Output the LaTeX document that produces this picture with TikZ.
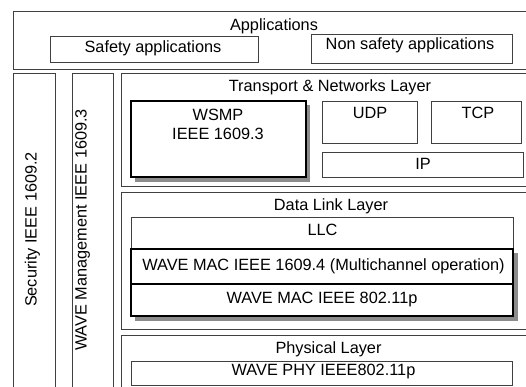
\documentclass[tikz,border=0pt]{standalone}
\usepackage{fontspec}
\setmainfont{Liberation Sans}
\usetikzlibrary{fit}
\begin{document}
\begin{tikzpicture}[x=1pt,y=-1pt,
  box/.style={draw=black!75, line width=0.9pt, fill=white, inner sep=0pt},
  heavybox/.style={draw=black, line width=2pt, fill=white, inner sep=0pt},
  shade/.style={fill=black!45, draw=none},
  lbl/.style={font=\fontsize{16.3}{18}\selectfont, inner sep=0pt, anchor=base}]
\clip (0,0) rectangle (526,387);
\fill[white] (0,0) rectangle (526,387);
% Applications
\node[box, fit={(13,11)(535,69)}] (app) {};
\node[lbl] (appT) at (274,31) {Applications};
\node[box, fit={(50,36)(258,62)}] (safe) {};
\node[lbl] (safeT) at (153,52.5) {Safety applications};
\node[box, fit={(311,34)(512,63)}] (nonsafe) {};
\node[lbl] (nonsafeT) at (410,50) {Non safety applications};
% Left columns
\node[box, fit={(13,73)(55,395)}] (sec) {};
\node[lbl, rotate=90] (secT) at (36.5,229.5) {Security IEEE 1609.2};
\node[box, fit={(72,73)(113,395)}] (mgmt) {};
\node[lbl, rotate=90] (mgmtT) at (86.5,230) {WAVE Management IEEE 1609.3};
% Transport
\node[box, fit={(121,73)(535,186)}] (trans) {};
\node[lbl] (transT) at (330,91.7) {Transport \& Networks Layer};
\fill[shade] (135,105) rectangle (310,182);
\node[heavybox, fit={(131,101)(306,177)}] (wsmp) {};
\node[lbl] (wsmpT) at (218,121) {WSMP};
\node[lbl] (wsmpT2) at (218,140) {IEEE 1609.3};
\node[box, fit={(322,101)(417,143)}] (udp) {};
\node[lbl] (udpT) at (370,119) {UDP};
\node[box, fit={(431,101)(521,143)}] (tcp) {};
\node[lbl] (tcpT) at (478,119) {TCP};
\node[box, fit={(322,152)(523,177)}] (ip) {};
\node[lbl] (ipT) at (423,170) {IP};
% Data link
\node[box, fit={(121,192)(535,329)}] (dll) {};
\node[lbl] (dllT) at (331,210.7) {Data Link Layer};
\node[box, fit={(131,217)(513,250)}] (llc) {};
\node[lbl] (llcT) at (322.5,235) {LLC};
\fill[shade] (135,253) rectangle (518,321);
\node[heavybox, fit={(131,249)(513,284)}] (mac1) {};
\node[lbl] (mac1T) at (323.5,270) {WAVE MAC IEEE 1609.4 (Multichannel operation)};
\node[heavybox, fit={(131,284)(513,316)}] (mac2) {};
\node[lbl] (mac2T) at (322,303.3) {WAVE MAC IEEE 802.11p};
% Physical
\node[box, fit={(121,335)(535,395)}] (phy) {};
\node[lbl] (phyT) at (328.5,353.3) {Physical Layer};
\node[box, fit={(131,361)(512,385)}] (wphy) {};
\node[lbl] (wphyT) at (323.5,375) {WAVE PHY IEEE802.11p};
\end{tikzpicture}
\end{document}
